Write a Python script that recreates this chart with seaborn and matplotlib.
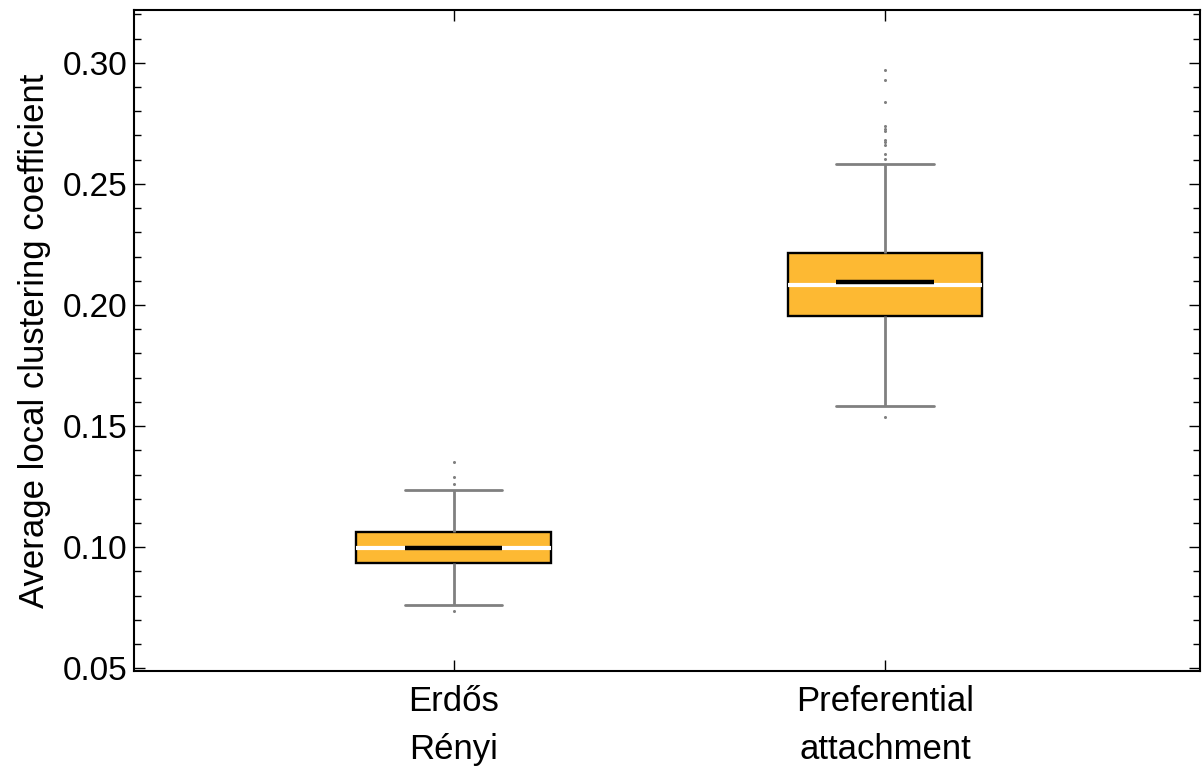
import numpy as np
import pandas as pd
import seaborn as sns
import matplotlib.pyplot as plt
from matplotlib.ticker import MultipleLocator

# summary values
categories = ["Erdős\nRényi", "Preferential\nattachment"]
whisker_low = [0.0763, 0.1581]
q1 = [0.0935, 0.1956]
median = [0.0997, 0.2081]
q3 = [0.1061, 0.2215]
whisker_high = [0.1238, 0.2583]
means = [0.0996, 0.2094]
outliers_er = [0.1352, 0.1290, 0.1263, 0.0735]
outliers_pa = [0.2971, 0.2930, 0.2840, 0.2737, 0.2727, 0.2718, 0.2682,
               0.2672, 0.2661, 0.2623, 0.2603, 0.1537]

box_color = "#FDB933"
line_gray = "#808080"

# five-number table per model -> seaborn computes the same quartiles from it
rows = []
for i, cat in enumerate(categories):
    for v in [whisker_low[i], q1[i], median[i], q3[i], whisker_high[i]]:
        rows.append({"model": cat, "value": v})
df = pd.DataFrame(rows)

fliers = pd.DataFrame(
    {"model": [categories[0]] * len(outliers_er) + [categories[1]] * len(outliers_pa),
     "value": outliers_er + outliers_pa}
)

sns.set_theme(style="ticks")
plt.rcParams["font.family"] = ["Liberation Sans", "DejaVu Sans"]

fig = plt.figure(figsize=(12.03, 7.67), dpi=100)
ax = fig.add_axes([0.1116, 0.1255, 0.8859, 0.8615])

sns.boxplot(data=df, x="model", y="value", order=categories, ax=ax,
            color=box_color, saturation=1, width=0.45, whis=np.inf,
            showfliers=False, linecolor=line_gray, linewidth=2,
            boxprops=dict(edgecolor="black", linewidth=1.7),
            medianprops=dict(color="white", linewidth=3))

for patch in ax.patches:
    patch.set_edgecolor("black")
    patch.set_linewidth(1.7)

sns.stripplot(data=fliers, x="model", y="value", order=categories, ax=ax,
              jitter=False, color=line_gray, size=2.2, linewidth=0, zorder=4)

pos = np.arange(len(categories))
ax.hlines(means, pos - 0.1125, pos + 0.1125, colors="black", linewidth=3.2, zorder=6)

ax.set_xlim(-0.74, 1.73)
ax.set_ylim(0.049, 0.3218)
ax.yaxis.set_major_locator(MultipleLocator(0.05))
ax.yaxis.set_minor_locator(MultipleLocator(0.01))
ax.yaxis.set_major_formatter(plt.FormatStrFormatter("%.2f"))

ax.set_xlabel("")
ax.set_ylabel("Average local clustering coefficient", fontsize=25, labelpad=8,
              color="black")
ax.tick_params(axis="both", which="both", direction="in", top=True, right=True,
               colors="black", width=1)
ax.tick_params(axis="both", which="major", length=8)
ax.tick_params(axis="y", which="major", pad=5, labelsize=24)
ax.tick_params(axis="y", which="minor", length=5)
ax.tick_params(axis="x", which="major", pad=10, labelsize=25)
for lab in ax.get_xticklabels():
    lab.set_linespacing(1.6)

for sp in ax.spines.values():
    sp.set_visible(True)
    sp.set_color("black")
    sp.set_linewidth(1.5)

fig.savefig("out.png", dpi=100)
